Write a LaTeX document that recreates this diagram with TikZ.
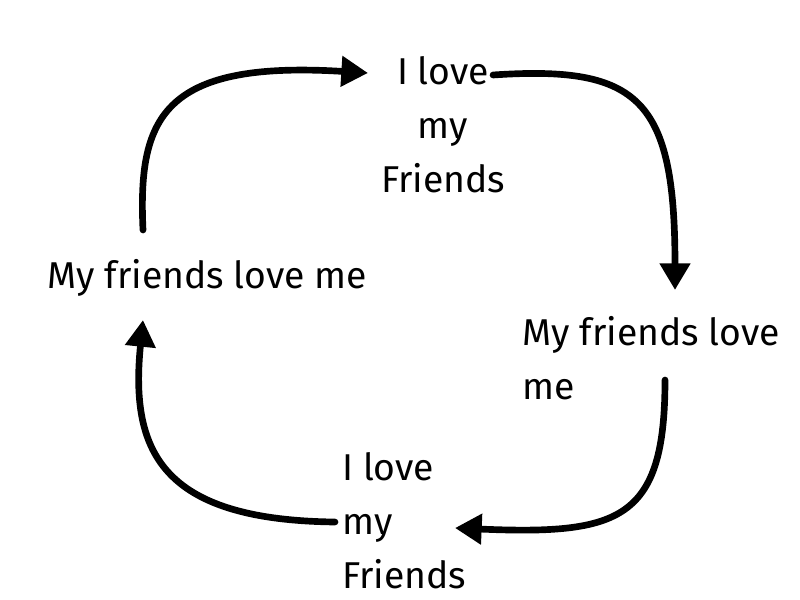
\documentclass[tikz,border=0pt]{standalone}
\usepackage{fontspec}
\setmainfont{Fira Sans}
\usetikzlibrary{arrows.meta}
\begin{document}
\begin{tikzpicture}[x=0.75pt,y=-0.75pt,
  lbl/.style={font=\fontsize{28}{40.5}\selectfont, inner sep=0pt},
  arr/.style={line width=5pt, line cap=round, -{Triangle[length=20pt,width=22pt]}}]
\useasboundingbox (0,0) rectangle (800,600);
\node[lbl, align=center, anchor=north] (t) at (443,56) {I love\\my\\Friends};
\node[lbl, anchor=west] (l) at (47,278) {My friends love me};
\node[lbl, align=left, anchor=north west] (r) at (522,316) {My friends love\\me};
\node[lbl, align=left, anchor=north west] (b) at (342,452) {I love\\my\\Friends};
\coordinate (a1) at (143,230);
\coordinate (a2) at (493,75);
\coordinate (a3) at (665,380);
\coordinate (a4) at (335,522);
\coordinate (e1) at (368,73);
\draw[arr] (a1) .. controls (138,120) and (160,60) .. (e1);
\draw[arr] (a2) .. controls (640,65) and (675,100) .. (675,290);
\draw[arr] (a3) .. controls (665,520) and (620,535) .. (455,528);
\draw[arr] (a4) .. controls (160,520) and (130,450) .. (143,320);
\end{tikzpicture}
\end{document}
